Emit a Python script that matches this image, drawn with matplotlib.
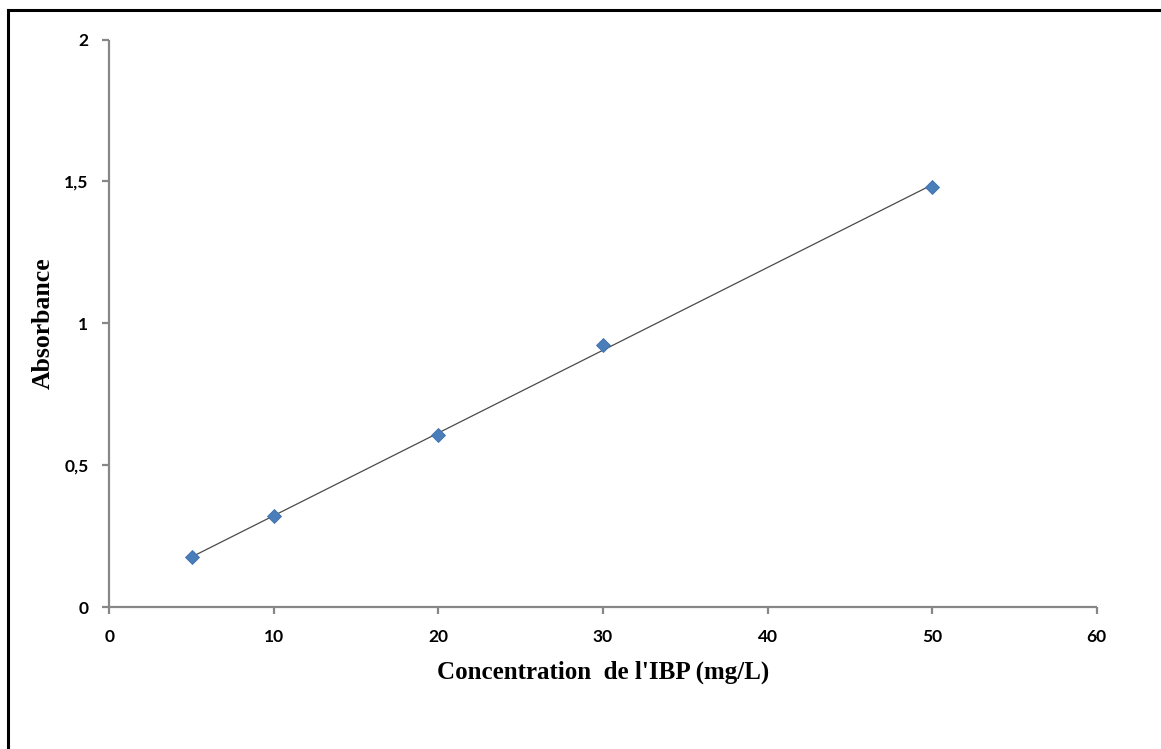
import numpy as np
import matplotlib
matplotlib.use("Agg")
import matplotlib.pyplot as plt
from matplotlib.lines import Line2D
from matplotlib.ticker import FuncFormatter

# Calibration data: concentration of IBP (mg/L) vs absorbance
concentration = [5, 10, 20, 30, 50]
absorbance = [0.175, 0.320, 0.605, 0.925, 1.480]

x_ticks = [0, 10, 20, 30, 40, 50, 60]
y_ticks = [0, 0.5, 1, 1.5, 2]

W, H = 1161, 749
fig = plt.figure(figsize=(W / 100, H / 100), dpi=100)
ax = fig.add_axes([109.3 / W, 1 - 607 / H, (1096.7 - 109.3) / W, (607 - 39.5) / H])

# Linear trend line over the measured range
slope, intercept = np.polyfit(concentration, absorbance, 1)
xfit = np.array([min(concentration), max(concentration)])
ax.plot(xfit, slope * xfit + intercept, color="#4a4a4a", lw=0.9, zorder=2)

ax.plot(concentration, absorbance, linestyle="none", marker="D", markersize=7.2,
        markerfacecolor="#4a7ebb", markeredgecolor="#3d6fae", markeredgewidth=0.6,
        zorder=3)

ax.set_xlim(0, 60)
ax.set_ylim(0, 2)
ax.set_xticks(x_ticks)
ax.set_yticks(y_ticks)
ax.yaxis.set_major_formatter(FuncFormatter(lambda v, p: f"{v:g}".replace(".", ",")))

for side in ("top", "right"):
    ax.spines[side].set_visible(False)
for side in ("left", "bottom"):
    ax.spines[side].set_color("#878787")
    ax.spines[side].set_linewidth(1.6)
    ax.spines[side].set_capstyle("butt")

ax.tick_params(axis="both", direction="out", length=5, width=1.6, color="#878787",
               labelsize=12.5, labelcolor="black")
ax.tick_params(axis="x", pad=11)
ax.tick_params(axis="y", pad=10)
for lbl in ax.get_xticklabels() + ax.get_yticklabels():
    lbl.set_fontfamily("Lato")
    lbl.set_fontweight("bold")

ax.set_xlabel("Concentration  de l'IBP (mg/L)", fontfamily="Liberation Serif",
              fontweight="bold", fontsize=18, labelpad=11)
ax.set_ylabel("Absorbance", fontfamily="Liberation Serif", fontweight="bold",
              fontsize=18.5, va="center")
ax.yaxis.set_label_coords((43 - 109.3) / 987.4, 0.5)

# Frame lines along the top and left edges of the figure
fig.add_artist(Line2D([8 / W, 1], [1 - 9.5 / H, 1 - 9.5 / H], color="black", lw=2.2,
                      transform=fig.transFigure))
fig.add_artist(Line2D([8 / W, 8 / W], [0, 1 - 9.5 / H], color="black", lw=2.2,
                      transform=fig.transFigure))

fig.savefig("out.png", dpi=100)
